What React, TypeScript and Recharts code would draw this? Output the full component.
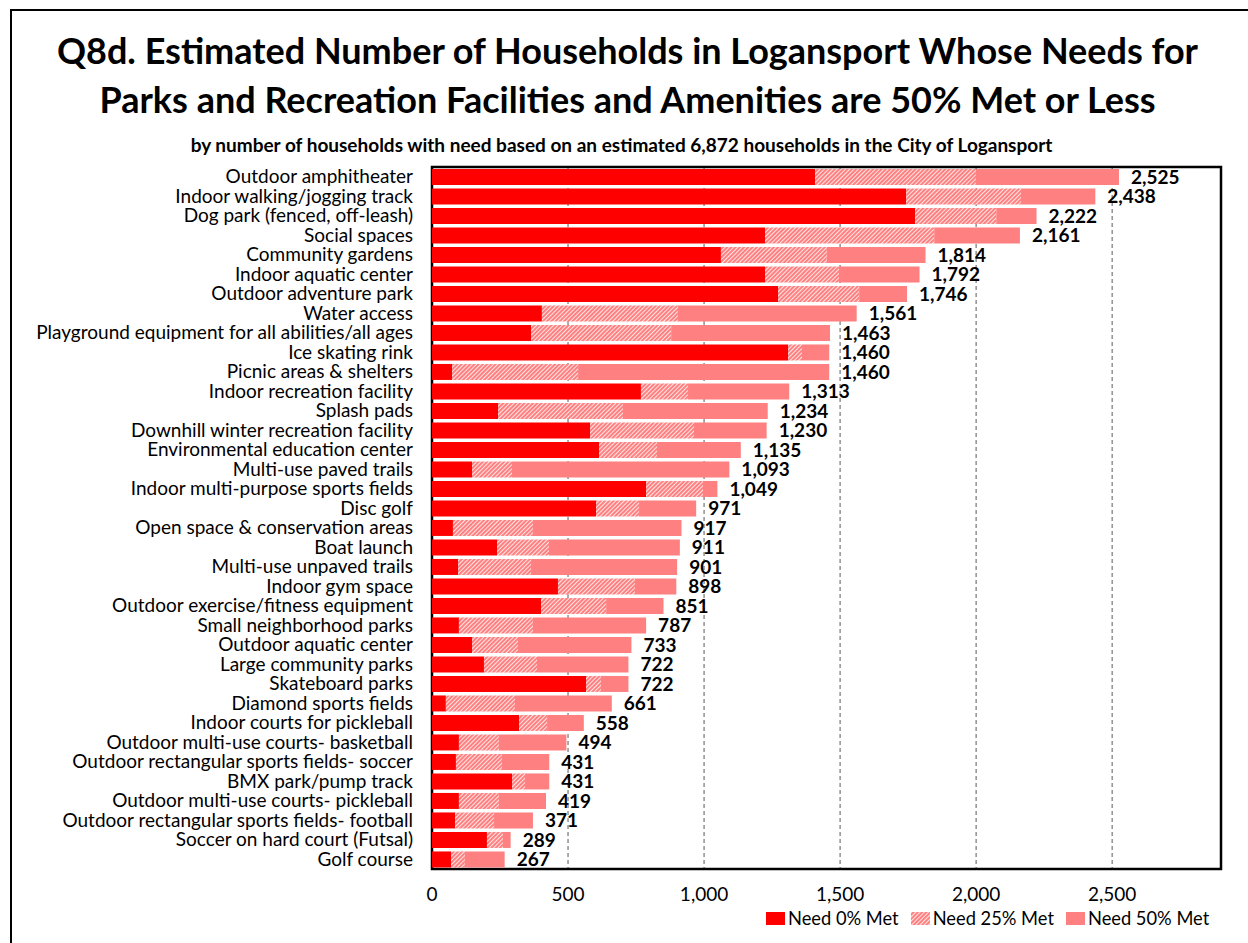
import { BarChart, Bar, XAxis, YAxis, CartesianGrid, LabelList, Legend, ReferenceArea } from 'recharts';

const categories = [
  'Outdoor amphitheater',
  'Indoor walking/jogging track',
  'Dog park (fenced, off-leash)',
  'Social spaces',
  'Community gardens',
  'Indoor aquatic center',
  'Outdoor adventure park',
  'Water access',
  'Playground equipment for all abilities/all ages',
  'Ice skating rink',
  'Picnic areas & shelters',
  'Indoor recreation facility',
  'Splash pads',
  'Downhill winter recreation facility',
  'Environmental education center',
  'Multi-use paved trails',
  'Indoor multi-purpose sports fields',
  'Disc golf',
  'Open space & conservation areas',
  'Boat launch',
  'Multi-use unpaved trails',
  'Indoor gym space',
  'Outdoor exercise/fitness equipment',
  'Small neighborhood parks',
  'Outdoor aquatic center',
  'Large community parks',
  'Skateboard parks',
  'Diamond sports fields',
  'Indoor courts for pickleball',
  'Outdoor multi-use courts- basketball',
  'Outdoor rectangular sports fields- soccer',
  'BMX park/pump track',
  'Outdoor multi-use courts- pickleball',
  'Outdoor rectangular sports fields- football',
  'Soccer on hard court (Futsal)',
  'Golf course',
];

const need0 = [1408, 1743, 1776, 1224, 1062, 1224, 1272, 404, 364, 1309, 74, 768, 243, 581, 614, 147, 787, 603, 77, 239, 96, 463, 401, 99, 147, 191, 566, 51, 320, 99, 88, 294, 99, 85, 202, 70];
const need25 = [591, 422, 298, 622, 389, 272, 298, 500, 515, 51, 463, 173, 459, 382, 213, 147, 209, 158, 294, 191, 268, 283, 239, 272, 169, 195, 55, 254, 103, 147, 169, 48, 147, 143, 59, 51];
const need50 = [526, 273, 148, 315, 363, 296, 176, 657, 584, 100, 923, 372, 532, 267, 308, 799, 53, 210, 546, 481, 537, 152, 211, 416, 417, 336, 101, 356, 135, 248, 174, 89, 173, 143, 28, 146];
const totals = [2525, 2438, 2222, 2161, 1814, 1792, 1746, 1561, 1463, 1460, 1460, 1313, 1234, 1230, 1135, 1093, 1049, 971, 917, 911, 901, 898, 851, 787, 733, 722, 722, 661, 558, 494, 431, 431, 419, 371, 289, 267];

const xTicks = [0, 500, 1000, 1500, 2000, 2500];

const data = categories.map((name, i) => ({
  name,
  need0: need0[i],
  need25: need25[i],
  need50: need50[i],
  total: totals[i],
}));

const FONT = 'Lato, "Open Sans", sans-serif';
const RED = '#FF0000';
const PINK = '#FF8080';
const fmt = (v: number) => v.toLocaleString('en-US');

const legendItems = [
  { label: 'Need 0% Met', fill: RED },
  { label: 'Need 25% Met', fill: 'url(#hatch25)' },
  { label: 'Need 50% Met', fill: PINK },
];

function LegendContent() {
  return (
    <div style={{ display: 'flex', alignItems: 'center', fontFamily: FONT, fontSize: 18.3, color: '#000', whiteSpace: 'nowrap' }}>
      {legendItems.map((it) => (
        <div key={it.label} style={{ display: 'flex', alignItems: 'center', marginRight: 12 }}>
          <svg width={19} height={13} style={{ marginRight: 3 }}>
            <rect width={19} height={13} fill={it.fill} />
          </svg>
          <span>{it.label}</span>
        </div>
      ))}
    </div>
  );
}

export default function App() {
  return (
    <div style={{ position: 'absolute', left: 0, top: 0, width: 1248, height: 943, overflow: 'hidden', background: '#fff' }}>
      <div style={{ position: 'absolute', left: 10, top: 9, width: 1300, height: 1000, border: '2px solid #000' }} />
      <div style={{ position: 'absolute', left: 0, top: 26, width: 1255, textAlign: 'center', fontFamily: FONT, fontWeight: 700, fontSize: 36, lineHeight: '49px', color: '#000', whiteSpace: 'nowrap' }}>
        Q8d. Estimated Number of Households in Logansport Whose Needs for
        <br />
        Parks and Recreation Facilities and Amenities are 50% Met or Less
      </div>
      <div style={{ position: 'absolute', left: 0, top: 133, width: 1243, textAlign: 'center', fontFamily: FONT, fontWeight: 700, fontSize: 19, color: '#000', whiteSpace: 'nowrap' }}>
        by number of households with need based on an estimated 6,872 households in the City of Logansport
      </div>
      <div style={{ position: 'absolute', left: 0, top: 0 }}>
        <BarChart
          width={1248}
          height={943}
          data={data}
          layout="vertical"
          margin={{ top: 167, right: 27, left: 12, bottom: 44 }}
          barCategoryGap="10%"
        >
          <defs>
            <pattern id="hatch25" width={3} height={3} patternUnits="userSpaceOnUse" patternTransform="rotate(45)">
              <rect width={3} height={3} fill={PINK} />
              <line x1={0} y1={0} x2={0} y2={3} stroke="#fff" strokeWidth={1.6} />
            </pattern>
          </defs>
          <CartesianGrid horizontal={false} stroke="#808080" strokeWidth={1.3} strokeDasharray="4 3" />
          <XAxis
            type="number"
            domain={[0, 2900]}
            ticks={xTicks}
            tickFormatter={fmt}
            tick={{ fill: '#000', fontSize: 19, fontFamily: FONT }}
            axisLine={false}
            tickLine={false}
            tickSize={0}
            tickMargin={19}
            height={30}
          />
          <YAxis
            type="category"
            dataKey="name"
            width={420}
            interval={0}
            tick={{ fill: '#000', fontSize: 19, fontFamily: FONT }}
            axisLine={false}
            tickLine={false}
            tickSize={0}
            tickMargin={19}
          />
          <Bar dataKey="need0" name="Need 0% Met" stackId="a" fill={RED} isAnimationActive={false} />
          <Bar dataKey="need25" name="Need 25% Met" stackId="a" fill="url(#hatch25)" isAnimationActive={false} />
          <Bar dataKey="need50" name="Need 50% Met" stackId="a" fill={PINK} isAnimationActive={false}>
            <LabelList
              dataKey="total"
              position="right"
              offset={12}
              formatter={(v: any) => fmt(Number(v))}
              style={{ fill: '#000', fontSize: 19, fontWeight: 700, fontFamily: FONT }}
            />
          </Bar>
          <ReferenceArea x1={0} x2={2900} fill="none" stroke="#000" strokeWidth={2.5} fillOpacity={0} ifOverflow="visible" />
          <Legend
            layout="horizontal"
            verticalAlign="middle"
            align="center"
            content={<LegendContent />}
            wrapperStyle={{ position: 'absolute', left: 766, top: 907, width: 480, right: 'auto', bottom: 'auto' }}
          />
        </BarChart>
      </div>
    </div>
  );
}
